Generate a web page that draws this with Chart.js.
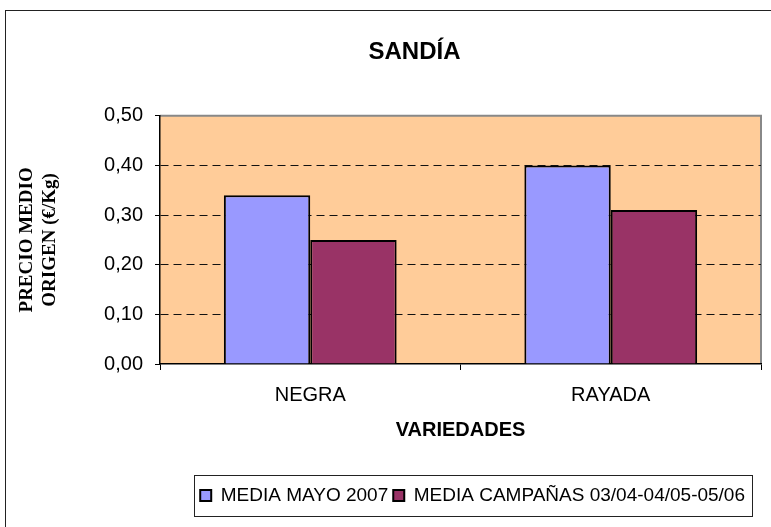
<!DOCTYPE html>
<html>
<head>
<meta charset="utf-8">
<script src="https://cdn.jsdelivr.net/npm/chart.js@4/dist/chart.umd.min.js"></script>
<style>
  html, body { margin: 0; padding: 0; background: #fff; }
</style>
</head>
<body>
<canvas id="sandia" width="771" height="527"></canvas>
<script>
const categories = ["NEGRA", "RAYADA"];
const mediaMayo2007 = [0.34, 0.40];
const mediaCampanas = [0.25, 0.31];
const seriesNames = ["MEDIA MAYO 2007", "MEDIA CAMPAÑAS 03/04-04/05-05/06"];
const yTicks = [0, 0.1, 0.2, 0.3, 0.4, 0.5];

const SANS = '"Liberation Sans", Arial, sans-serif';
const SERIF = '"Liberation Serif", "Times New Roman", serif';

// plot background, frame and legend box the way Excel draws them
const excelFrame = {
    id: 'excelFrame',
    afterLayout(chart) {
        chart.legend.right -= 11;
        chart.titleBlock.left += 68;
    },
    beforeDraw(chart) {
        const ctx = chart.ctx;
        const a = chart.chartArea;
        ctx.save();
        ctx.fillStyle = '#FFCC99';
        ctx.fillRect(a.left, a.top, a.right - a.left, a.bottom - a.top);
        ctx.strokeStyle = '#888888';
        ctx.lineWidth = 2;
        ctx.beginPath();
        ctx.moveTo(a.left, a.top);
        ctx.lineTo(a.right, a.top);
        ctx.lineTo(a.right, a.bottom);
        ctx.stroke();
        ctx.strokeStyle = '#222';
        ctx.lineWidth = 1;
        ctx.strokeRect(5.5, 10.5, 1000, 1000);
        ctx.restore();
    },
    afterDraw(chart) {
        const lg = chart.legend;
        const hb = lg.legendHitBoxes;
        if (!hb || !hb.length) return;
        const last = hb[hb.length - 1];
        const ctx = chart.ctx;
        ctx.save();
        ctx.strokeStyle = '#222';
        ctx.lineWidth = 1;
        const l = Math.round(hb[0].left - 6) + 0.5;
        const r = Math.round(last.left + last.width + 7) + 0.5;
        const t = Math.round(lg.top - 6) + 0.5;
        const b = Math.round(lg.bottom + 1) + 0.5;
        ctx.strokeRect(l, t, r - l, b - t);
        ctx.restore();
    }
};

new Chart(document.getElementById("sandia"), {
    type: 'bar',
    data: {
        labels: categories,
        datasets: [
            {
                label: seriesNames[0],
                data: mediaMayo2007,
                backgroundColor: '#9999FF',
                borderColor: '#000',
                borderWidth: 2
            },
            {
                label: seriesNames[1],
                data: mediaCampanas,
                backgroundColor: '#993366',
                borderColor: '#000',
                borderWidth: 2
            }
        ]
    },
    options: {
        responsive: false,
        animation: false,
        categoryPercentage: 0.575,
        barPercentage: 1,
        layout: { padding: { left: 0, right: 10, top: 0, bottom: 12 } },
        plugins: {
            title: {
                display: true,
                text: 'SANDÍA',
                color: '#000',
                font: { family: SANS, size: 24, weight: 'bold', lineHeight: 1.2 },
                padding: { top: 38, bottom: 49 }
            },
            legend: {
                position: 'bottom',
                align: 'end',
                labels: {
                    color: '#000',
                    font: { family: SANS, size: 19 },
                    boxWidth: 11,
                    boxHeight: 11,
                    padding: 5
                }
            },
            tooltip: { enabled: false }
        },
        scales: {
            x: {
                afterFit: function(s) { s.height = 117; },
                grid: {
                    offset: true,
                    drawOnChartArea: false,
                    drawTicks: true,
                    tickLength: 6,
                    color: '#000'
                },
                border: { color: '#000', width: 1.5 },
                ticks: {
                    color: '#000',
                    padding: 13,
                    font: { family: SANS, size: 20 }
                },
                title: {
                    display: true,
                    text: 'VARIEDADES',
                    color: '#000',
                    font: { family: SANS, size: 20, weight: 'bold' },
                    padding: { top: 0, bottom: 39 }
                }
            },
            y: {
                min: 0,
                max: 0.5,
                afterFit: function(s) { s.width = 160; },
                afterBuildTicks: function(s) { s.ticks = yTicks.map(v => ({ value: v })); },
                grid: {
                    color: c => (c.tick && (c.tick.value === 0 || c.tick.value === 0.5)) ? 'rgba(0,0,0,0)' : '#111',
                    tickColor: '#000',
                    tickBorderDash: [],
                    tickLength: 5,
                    lineWidth: 1
                },
                border: { color: '#000', width: 1.5, dash: [8, 5] },
                ticks: {
                    color: '#000',
                    padding: 12,
                    font: { family: SANS, size: 20 },
                    callback: v => v.toFixed(2).replace('.', ',')
                },
                title: {
                    display: true,
                    text: ['PRECIO MEDIO', 'ORIGEN (€/Kg)'],
                    color: '#000',
                    font: { family: SERIF, size: 19, weight: 'bold', lineHeight: 1.2 },
                    padding: { top: 16, bottom: 0 }
                }
            }
        }
    },
    plugins: [excelFrame]
});
</script>
</body>
</html>
